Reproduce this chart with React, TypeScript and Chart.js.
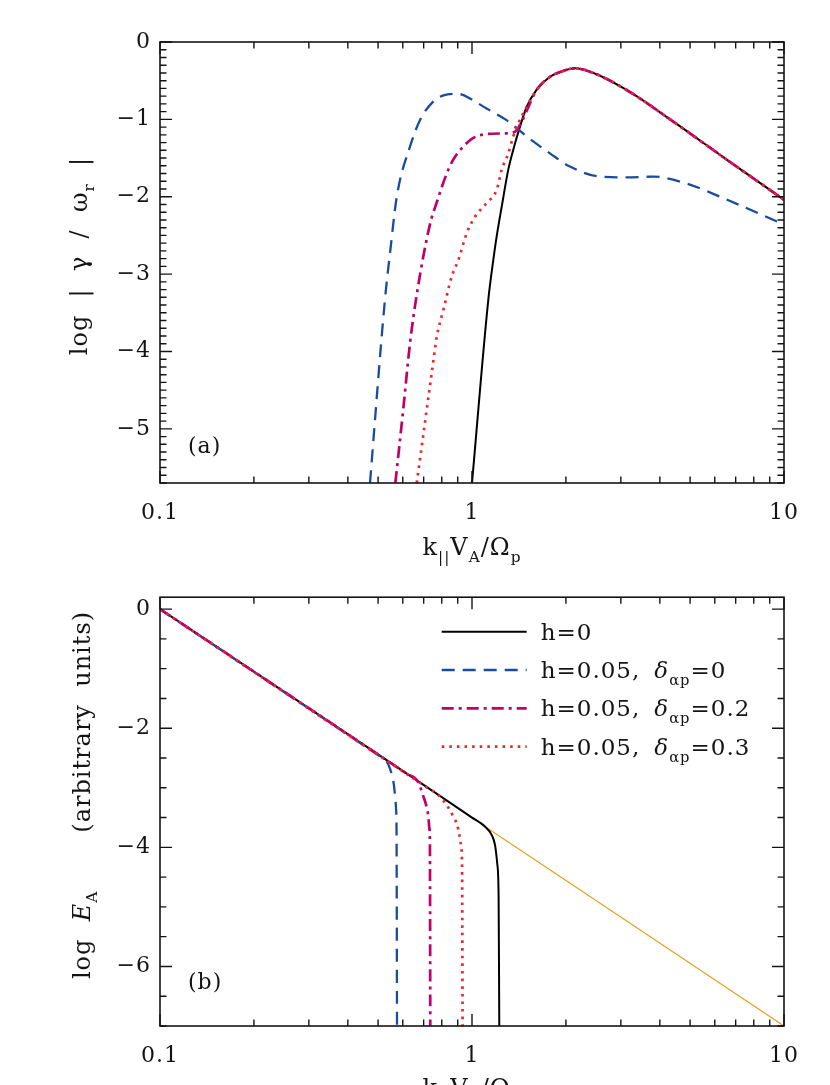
import React, { useEffect, useRef } from "react";
import { Chart, registerables } from "chart.js";
Chart.register(...registerables);

const FONT = "'DejaVu Serif', 'Liberation Serif', serif";
const INK = "#141414";

// ---------- axes ----------
const X_MIN = 0.1;
const X_MAX = 10;
const X_LABEL_TICKS = [0.1, 1, 10];
const X_MINOR_TICKS = [0.2, 0.3, 0.4, 0.5, 0.6, 0.7, 0.8, 0.9, 2, 3, 4, 5, 6, 7, 8, 9];

const A_Y_MIN = -5.7;
const A_Y_MAX = 0;
const A_Y_TICKS = [-5, -4, -3, -2, -1, 0];
const A_Y_MINOR_STEP = 0.1;

const B_Y_MIN = -7;
const B_Y_MAX = 0.2;
const B_Y_TICKS = [-6, -4, -2, 0];
const B_Y_MINOR_STEP = 0.5;

// ---------- panel (a): log |gamma / omega_r| ----------
const A_K_H0 = [1.0, 1.128, 1.17, 1.2, 1.245, 1.307, 1.374, 1.426, 1.497, 1.61, 1.778, 1.91, 2.14, 2.45, 3.13, 4.42, 6.55, 10];
const A_G_H0 = [-5.7, -3.33, -2.82, -2.51, -2.13, -1.65, -1.31, -1.09, -0.84, -0.62, -0.45, -0.39, -0.34, -0.4, -0.62, -1.03, -1.52, -2.04];

const A_K_D0 = [0.471, 0.526, 0.546, 0.574, 0.633, 0.681, 0.751, 0.81, 0.871, 0.93, 0.985, 1.114, 1.29, 1.497, 1.778, 2.06, 2.57, 3.13, 3.81, 4.88, 6.24, 10];
const A_G_D0 = [-5.7, -3.33, -2.73, -2.0, -1.35, -1.01, -0.77, -0.69, -0.67, -0.68, -0.73, -0.86, -1.01, -1.22, -1.44, -1.61, -1.74, -1.75, -1.74, -1.83, -2.0, -2.36];

const A_K_D02 = [0.568, 0.602, 0.633, 0.666, 0.733, 0.77, 0.83, 0.871, 0.938, 1.01, 1.114, 1.29, 1.374, 1.443, 1.535, 1.61, 1.778, 1.91, 2.14, 2.45, 3.13, 4.42, 6.55, 10];
const A_G_D02 = [-5.7, -4.75, -3.89, -3.25, -2.36, -2.08, -1.7, -1.52, -1.35, -1.24, -1.19, -1.18, -1.16, -1.03, -0.79, -0.62, -0.45, -0.39, -0.34, -0.4, -0.62, -1.03, -1.52, -2.04];

const A_K_D03 = [0.665, 0.69, 0.716, 0.743, 0.771, 0.81, 0.861, 0.904, 0.962, 1.022, 1.114, 1.2, 1.245, 1.307, 1.356, 1.408, 1.479, 1.61, 1.778, 1.91, 2.14, 2.45, 3.13, 4.42, 6.55, 10];
const A_G_D03 = [-5.7, -5.23, -4.75, -4.28, -3.81, -3.46, -3.03, -2.82, -2.47, -2.26, -2.08, -1.91, -1.65, -1.44, -1.22, -1.05, -0.88, -0.62, -0.45, -0.39, -0.34, -0.4, -0.62, -1.03, -1.52, -2.04];

// ---------- panel (b): log E_A ----------
const B_K_H0 = [0.1, 1.0, 1.1, 1.156, 1.185, 1.205, 1.217, 1.223];
const B_E_H0 = [0, -3.5, -3.65, -3.79, -3.96, -4.28, -4.82, -7];

const B_K_D0 = [0.1, 0.5, 0.53, 0.546, 0.56, 0.567, 0.571, 0.573, 0.575];
const B_E_D0 = [0, -2.45, -2.54, -2.68, -2.9, -3.14, -3.36, -3.74, -7];

const B_K_D02 = [0.1, 0.62, 0.67, 0.698, 0.716, 0.725, 0.73, 0.733, 0.735];
const B_E_D02 = [0, -2.77, -2.89, -3.14, -3.33, -3.49, -3.68, -3.9, -7];

const B_K_D03 = [0.1, 0.72, 0.78, 0.839, 0.871, 0.897, 0.91, 0.92, 0.929, 0.933];
const B_E_D03 = [0, -3.0, -3.12, -3.33, -3.48, -3.63, -3.78, -3.93, -4.23, -7];

const B_K_REF = [1.1, 10];
const B_E_REF = [-3.65, -7];

// ---------- styles ----------
const S_H0 = { color: "#000000", dash: [] as number[], width: 2 };
const S_D0 = { color: "#1A4C9E", dash: [13, 8], width: 2.3 };
const S_D02 = { color: "#C0006A", dash: [12, 5, 3, 5], width: 2.7 };
const S_D03 = { color: "#EC2630", dash: [2.6, 5], width: 2.7 };
const S_REF = { color: "#E3A21A", dash: [] as number[], width: 1.2 };

type Seg = { t?: string; sub?: boolean; it?: boolean; gap?: number };

const LEGEND_H0: Seg[] = [{ t: "h=0" }];
const LEGEND_D0: Seg[] = [{ t: "h=0.05," }, { gap: 14 }, { t: "δ", it: true }, { t: "αp", sub: true }, { t: "=0" }];
const LEGEND_D02: Seg[] = [{ t: "h=0.05," }, { gap: 14 }, { t: "δ", it: true }, { t: "αp", sub: true }, { t: "=0.2" }];
const LEGEND_D03: Seg[] = [{ t: "h=0.05," }, { gap: 14 }, { t: "δ", it: true }, { t: "αp", sub: true }, { t: "=0.3" }];

const X_TITLE: Seg[] = [{ t: "k" }, { t: "||", sub: true }, { t: "V" }, { t: "A", sub: true }, { t: "/Ω" }, { t: "p", sub: true }];
const A_Y_TITLE: Seg[] = [{ t: "log  |  γ  /  ω" }, { t: "r", sub: true }, { t: "  |" }];
const B_Y_TITLE: Seg[] = [{ t: "log  " }, { t: "E", it: true }, { t: "A", sub: true }, { gap: 58 }, { t: "(arbitrary  units)" }];

const TITLE_SIZE = 24;
const LEGEND_SIZE = 23;
const TICK_SIZE = 22;

function setFont(ctx: CanvasRenderingContext2D, size: number, italic?: boolean) {
  ctx.font = `${italic ? "italic " : ""}${size}px ${FONT}`;
}

function richWidth(ctx: CanvasRenderingContext2D, segs: Seg[], size: number) {
  let w = 0;
  for (const s of segs) {
    if (s.gap) { w += s.gap; continue; }
    setFont(ctx, s.sub ? size * 0.64 : size, s.it);
    w += ctx.measureText(s.t || "").width;
  }
  return w;
}

function drawRich(ctx: CanvasRenderingContext2D, segs: Seg[], x: number, y: number, size: number, align: "left" | "center") {
  const w = richWidth(ctx, segs, size);
  let cx = align === "center" ? x - w / 2 : x;
  ctx.textAlign = "left";
  ctx.textBaseline = "alphabetic";
  for (const s of segs) {
    if (s.gap) { cx += s.gap; continue; }
    const sz = s.sub ? size * 0.64 : size;
    setFont(ctx, sz, s.it);
    ctx.fillText(s.t || "", cx, y + (s.sub ? size * 0.3 : 0));
    cx += ctx.measureText(s.t || "").width;
  }
}

const decorPlugin = {
  id: "decor",
  beforeDraw(chart: any) {
    (chart.ctx as any).letterSpacing = "1px";
  },
  afterDraw(chart: any, _args: any, o: any) {
    const ctx = chart.ctx as CanvasRenderingContext2D;
    const { left, right, top, bottom } = chart.chartArea;
    const xs = chart.scales.x;
    const ys = chart.scales.y;
    ctx.save();
    (ctx as any).letterSpacing = "0px";
    ctx.strokeStyle = INK;
    ctx.setLineDash([]);
    ctx.lineCap = "butt";
    const MAJ = 12;
    const MIN = 6.5;
    ctx.lineWidth = 1.4;
    ctx.beginPath();
    const tickX = (v: number, len: number) => {
      const p = xs.getPixelForValue(v);
      ctx.moveTo(p, bottom); ctx.lineTo(p, bottom - len);
      ctx.moveTo(p, top); ctx.lineTo(p, top + len);
    };
    X_LABEL_TICKS.forEach((v) => tickX(v, MAJ));
    X_MINOR_TICKS.forEach((v) => tickX(v, MIN));
    const n0 = Math.ceil(o.yMin / o.minorStep - 1e-9);
    const n1 = Math.floor(o.yMax / o.minorStep + 1e-9);
    for (let n = n0; n <= n1; n++) {
      const v = n * o.minorStep;
      const major = o.yMajor.some((m: number) => Math.abs(m - v) < 1e-6);
      const len = major ? MAJ : MIN;
      const p = ys.getPixelForValue(v);
      ctx.moveTo(left, p); ctx.lineTo(left + len, p);
      ctx.moveTo(right, p); ctx.lineTo(right - len, p);
    }
    ctx.stroke();
    ctx.lineWidth = 1.6;
    ctx.strokeRect(left, top, right - left, bottom - top);

    ctx.fillStyle = INK;
    (ctx as any).letterSpacing = "1px";
    drawRich(ctx, X_TITLE, (left + right) / 2, bottom + o.xTitleDy, TITLE_SIZE, "center");
    ctx.save();
    ctx.translate(o.yTitleX, o.yTitleCy);
    ctx.rotate(-Math.PI / 2);
    drawRich(ctx, o.yTitle, 0, 0, TITLE_SIZE, "center");
    ctx.restore();
    drawRich(ctx, [{ t: o.panel }], o.panelX, o.panelY, 22, "left");

    if (o.legend) {
      const L = o.legend;
      L.items.forEach((it: any, i: number) => {
        const y = L.y0 + i * L.dy;
        ctx.save();
        ctx.strokeStyle = it.style.color;
        ctx.lineWidth = it.style.width;
        ctx.setLineDash(it.style.dash);
        ctx.beginPath();
        ctx.moveTo(L.x0, y);
        ctx.lineTo(L.x1, y);
        ctx.stroke();
        ctx.restore();
        drawRich(ctx, it.label, L.tx, y + 8, LEGEND_SIZE, "left");
      });
    }
    ctx.restore();
  },
};

function ds(ks: number[], vs: number[], st: { color: string; dash: number[]; width: number }) {
  return {
    data: ks.map((k, i) => ({ x: k, y: vs[i] })),
    borderColor: st.color,
    backgroundColor: st.color,
    borderWidth: st.width,
    borderDash: st.dash,
    borderCapStyle: "butt",
    pointRadius: 0,
    fill: false,
    cubicInterpolationMode: "monotone",
  };
}

const fmtY = (v: number) => (v < 0 ? "\u2212" + Math.abs(v) : String(v));

function makeConfig(datasets: any[], yMin: number, yMax: number, yTicks: number[], xAxisH: number, padTop: number, decor: any): any {
  return {
    type: "line",
    data: { datasets },
    plugins: [decorPlugin],
    options: {
      responsive: false,
      animation: false,
      events: [],
      layout: { padding: { left: 60, right: 46, top: padTop, bottom: 0 } },
      plugins: { legend: { display: false }, tooltip: { enabled: false }, decor },
      scales: {
        x: {
          type: "logarithmic",
          min: X_MIN,
          max: X_MAX,
          afterBuildTicks: (s: any) => { s.ticks = X_LABEL_TICKS.map((v) => ({ value: v })); },
          afterFit: (s: any) => { s.height = xAxisH; },
          grid: { display: false, drawTicks: false },
          border: { display: false },
          ticks: {
            autoSkip: false,
            maxRotation: 0,
            padding: 17,
            color: INK,
            font: { family: FONT, size: TICK_SIZE },
            callback: (v: any) => String(Number(v)),
          },
        },
        y: {
          type: "linear",
          min: yMin,
          max: yMax,
          afterBuildTicks: (s: any) => { s.ticks = yTicks.map((v) => ({ value: v })); },
          afterFit: (s: any) => { s.width = 100; },
          grid: { display: false, drawTicks: false },
          border: { display: false },
          ticks: {
            autoSkip: false,
            padding: 9,
            color: INK,
            font: { family: FONT, size: TICK_SIZE },
            callback: (v: any) => fmtY(Number(v)),
          },
        },
      },
    },
  };
}

export default function App() {
  const refA = useRef<HTMLCanvasElement>(null);
  const refB = useRef<HTMLCanvasElement>(null);

  useEffect(() => {
    const cfgA = makeConfig(
      [
        ds(A_K_D03, A_G_D03, S_D03),
        ds(A_K_D02, A_G_D02, S_D02),
        ds(A_K_D0, A_G_D0, S_D0),
        ds(A_K_H0, A_G_H0, S_H0),
      ],
      A_Y_MIN, A_Y_MAX, A_Y_TICKS, 92, 42,
      {
        yMin: A_Y_MIN, yMax: A_Y_MAX, yMajor: A_Y_TICKS, minorStep: A_Y_MINOR_STEP,
        xTitleDy: 72, yTitle: A_Y_TITLE, yTitleX: 87, yTitleCy: 256,
        panel: "(a)", panelX: 188, panelY: 453,
      }
    );
    const cfgB = makeConfig(
      [
        ds(B_K_D03, B_E_D03, S_D03),
        ds(B_K_D02, B_E_D02, S_D02),
        ds(B_K_D0, B_E_D0, S_D0),
        ds(B_K_H0, B_E_H0, S_H0),
        ds(B_K_REF, B_E_REF, S_REF),
      ],
      B_Y_MIN, B_Y_MAX, B_Y_TICKS, 109, 10,
      {
        yMin: B_Y_MIN, yMax: B_Y_MAX, yMajor: B_Y_TICKS, minorStep: B_Y_MINOR_STEP,
        xTitleDy: 70, yTitle: B_Y_TITLE, yTitleX: 90, yTitleCy: 220,
        panel: "(b)", panelX: 188, panelY: 414,
        legend: {
          x0: 441.7, x1: 526.7, tx: 540.7, y0: 56.7, dy: 38.3,
          items: [
            { style: S_H0, label: LEGEND_H0 },
            { style: S_D0, label: LEGEND_D0 },
            { style: S_D02, label: LEGEND_D02 },
            { style: S_D03, label: LEGEND_D03 },
          ],
        },
      }
    );
    const a = new Chart(refA.current as HTMLCanvasElement, cfgA);
    const b = new Chart(refB.current as HTMLCanvasElement, cfgB);
    return () => { a.destroy(); b.destroy(); };
  }, []);

  return (
    <div style={{ position: "fixed", left: 0, top: 0, width: 830, height: 1085, overflow: "hidden", background: "#ffffff" }}>
      <canvas ref={refA} width={830} height={575} style={{ position: "absolute", left: 0, top: 0 }} />
      <canvas ref={refB} width={830} height={560} style={{ position: "absolute", left: 0, top: 575 }} />
    </div>
  );
}
